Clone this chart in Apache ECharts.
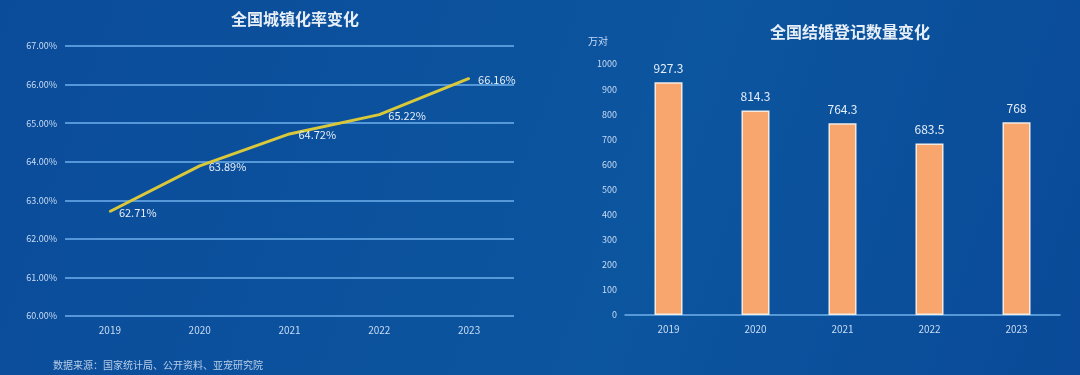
<!DOCTYPE html>
<html>
<head>
<meta charset="utf-8">
<script src="https://cdn.jsdelivr.net/npm/echarts@6/dist/echarts.min.js"></script>
<style>
  html, body { margin: 0; padding: 0; }
  #chart { width: 1080px; height: 375px; }
</style>
</head>
<body>
<div id="chart"></div>
<script>
// 数据
const years = ['2019', '2020', '2021', '2022', '2023']
const urbanRate = [62.71, 63.89, 64.72, 65.22, 66.16]
const marriages = [927.3, 814.3, 764.3, 683.5, 768]

const labelColor = '#c9dcf4'
const gridColor = '#6fb0ec'

const chart = echarts.init(document.getElementById('chart'))

chart.setOption({
  backgroundColor: {
    type: 'linear', x: 0, y: 0, x2: 1, y2: 1,
    colorStops: [
      { offset: 0, color: '#0b4c9a' },
      { offset: 0.6, color: '#0c559f' },
      { offset: 1, color: '#0a4a98' }
    ]
  },
  animation: false,
  textStyle: { fontFamily: '"Noto Sans CJK SC", "Noto Sans", sans-serif' },
  title: [
    {
      text: '全国城镇化率变化',
      left: 290, top: 6, textAlign: 'center',
      textStyle: { color: '#e6eef8', fontSize: 16, fontWeight: 'bold' }
    },
    {
      text: '全国结婚登记数量变化',
      left: 845, top: 19, textAlign: 'center',
      textStyle: { color: '#e6eef8', fontSize: 16, fontWeight: 'bold' }
    },
    {
      text: '数据来源：国家统计局、公开资料、亚宠研究院',
      left: 48, top: 355,
      textStyle: { color: '#b8cde8', fontSize: 10, fontWeight: 'normal' }
    }
  ],
  grid: [
    { left: 65, right: 566, top: 46, bottom: 59 },
    { left: 625, right: 20, top: 64, bottom: 60 }
  ],
  xAxis: [
    {
      gridIndex: 0, type: 'category', data: years,
      axisLine: { show: false }, axisTick: { show: false },
      axisLabel: { color: labelColor, fontSize: 10, margin: 9 }
    },
    {
      gridIndex: 1, type: 'category', data: years,
      axisLine: { lineStyle: { color: gridColor, width: 1.5 } },
      axisTick: { show: false },
      axisLabel: { color: labelColor, fontSize: 10, margin: 9 }
    }
  ],
  yAxis: [
    {
      gridIndex: 0, type: 'value', min: 60, max: 67, interval: 1,
      axisLine: { show: false }, axisTick: { show: false },
      axisLabel: { color: labelColor, fontSize: 9, margin: 8, formatter: v => v.toFixed(2) + '%' },
      splitLine: { lineStyle: { color: gridColor, width: 1.5 } }
    },
    {
      gridIndex: 1, type: 'value', min: 0, max: 1000, interval: 100,
      name: '万对', nameGap: 18,
      nameTextStyle: { color: labelColor, fontSize: 10, align: 'right', padding: [0, 17, 0, 0] },
      axisLine: { show: false }, axisTick: { show: false },
      axisLabel: { color: labelColor, fontSize: 9, margin: 8, formatter: v => String(v) },
      splitLine: { show: false }
    }
  ],
  series: [
    {
      type: 'line', xAxisIndex: 0, yAxisIndex: 0,
      data: urbanRate,
      symbol: 'circle', symbolSize: 2, showSymbol: true,
      itemStyle: { color: '#d9c83a' },
      lineStyle: { color: '#d9c83a', width: 3 },
      label: {
        show: true, position: 'right', distance: 8, offset: [0, 1],
        color: '#e6eef8', fontSize: 11,
        formatter: p => p.value.toFixed(2) + '%'
      }
    },
    {
      type: 'bar', xAxisIndex: 1, yAxisIndex: 1,
      data: marriages,
      barWidth: 28,
      itemStyle: { color: '#f8a66d', borderColor: '#f3ebe2', borderWidth: 1.5 },
      label: { show: true, position: 'top', distance: 8, color: '#e6eef8', fontSize: 12 }
    }
  ]
})
</script>
</body>
</html>
